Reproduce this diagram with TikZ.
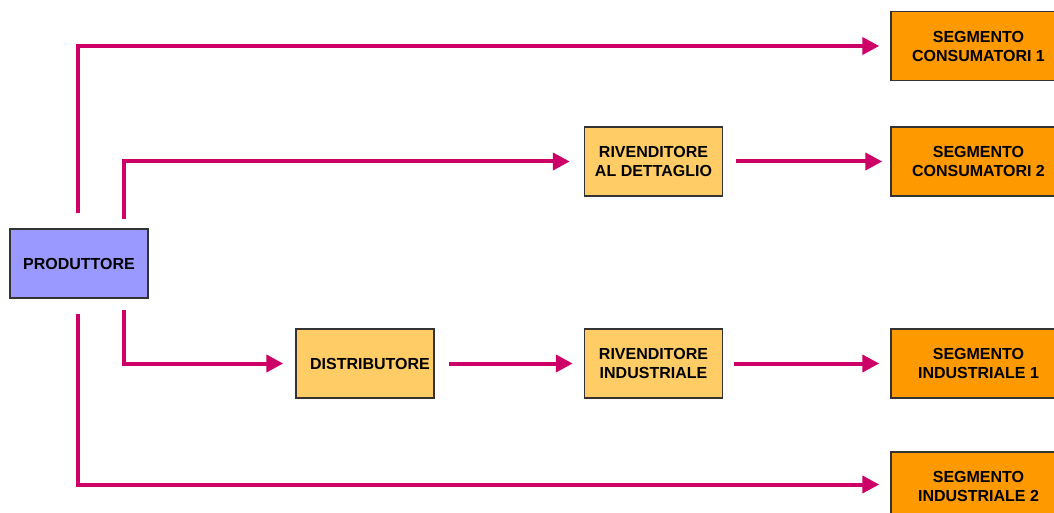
\documentclass[tikz,border=0pt]{standalone}
\usepackage{fontspec}
\setmainfont{Liberation Sans}
\usetikzlibrary{arrows.meta}
\definecolor{flowc}{HTML}{CC0066}
\definecolor{prodc}{HTML}{9999FF}
\definecolor{lightor}{HTML}{FFCC66}
\definecolor{darkor}{HTML}{FF9900}
\definecolor{edgec}{HTML}{333333}
\tikzset{
  box/.style={draw=edgec, line width=1.5pt, minimum height=69pt, inner sep=0pt,
    align=center, font=\fontsize{16}{19}\selectfont\bfseries},
  prodbox/.style={box, fill=prodc, minimum width=138pt},
  midbox/.style={box, fill=lightor, minimum width=138pt},
  segbox/.style={box, fill=darkor, minimum width=175pt},
  flow/.style={draw=flowc, line width=4pt, -{Triangle[length=17pt,width=17pt]}}
}
\begin{document}
\begin{tikzpicture}[x=1pt,y=-1pt]
\useasboundingbox (0,0) rectangle (1054,513);
\node[prodbox] (prod) at (79,263.5) {PRODUTTORE};
\node[midbox] (rad) at (653.5,161.5) {RIVENDITORE\\AL DETTAGLIO};
\node[midbox] (dist) at (365,363.5) {\hspace*{10pt}DISTRIBUTORE};
\node[midbox] (rind) at (653.5,363.5) {RIVENDITORE\\INDUSTRIALE};
\node[segbox] (s1) at (978.5,46) {SEGMENTO\\CONSUMATORI 1};
\node[segbox] (s2) at (978.5,161.5) {SEGMENTO\\CONSUMATORI 2};
\node[segbox] (s3) at (978.5,363.5) {SEGMENTO\\INDUSTRIALE 1};
\node[segbox] (s4) at (978.5,486.5) {SEGMENTO\\INDUSTRIALE 2};
% connectors
\draw[flow, shorten >=11pt] ([xshift=-1pt,yshift=15pt]prod.north) |- (s1);
\draw[flow, shorten >=14pt] ([xshift=45pt,yshift=9pt]prod.north) |- (rad);
\draw[flow, shorten <=13pt, shorten >=8pt] (rad) -- (s2);
\draw[flow, shorten >=12pt] ([xshift=45pt,yshift=-11pt]prod.south) |- (dist);
\draw[flow, shorten <=14pt, shorten >=11pt] (dist) -- (rind);
\draw[flow, shorten <=11pt, shorten >=11pt] (rind) -- (s3);
\draw[flow, shorten >=11pt] ([xshift=-1pt,yshift=-15pt]prod.south) |- ([yshift=2pt]s4.west);
\end{tikzpicture}
\end{document}
